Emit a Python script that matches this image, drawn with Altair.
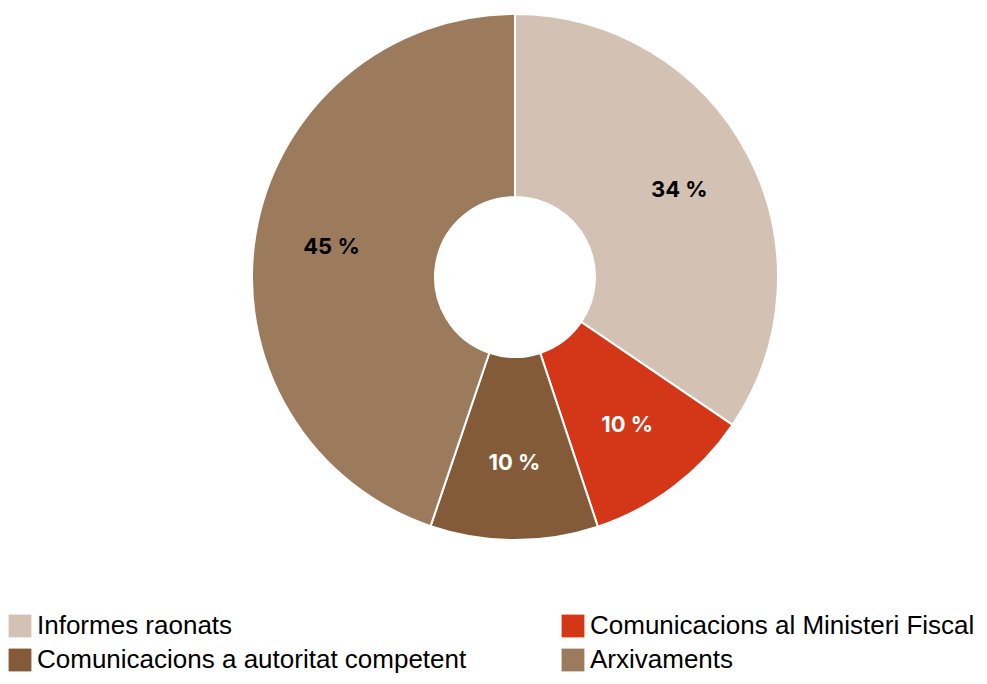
import altair as alt
import pandas as pd

categories = ["Informes raonats", "Comunicacions al Ministeri Fiscal",
              "Comunicacions a autoritat competent", "Arxivaments"]
shares = [34.5, 10.4, 10.3, 44.8]
labels = ["34 %", "10 %", "10 %", "45 %"]
colors = ["#D3C1B3", "#D43618", "#845B38", "#9C7B5C"]
label_colors = ["#000000", "#FFFFFF", "#FFFFFF", "#000000"]

df = pd.DataFrame({
    "cat": categories,
    "share": shares,
    "label": labels,
    "order": list(range(len(categories))),
    "tcol": label_colors,
})

CX, CY = 507, 269

base = alt.Chart(df).encode(
    theta=alt.Theta("share:Q", stack=True),
    order=alt.Order("order:Q"),
)

arcs = base.mark_arc(outerRadius=263, innerRadius=80, stroke="white", strokeWidth=2).encode(
    x=alt.value(CX), y=alt.value(CY),
    color=alt.Color(
        "cat:N",
        scale=alt.Scale(domain=categories, range=colors),
        sort=categories,
        legend=alt.Legend(
            title=None, orient="none", legendX=-1, legendY=605, columns=2,
            direction="horizontal",
            symbolType="square", symbolSize=520, symbolStrokeWidth=0,
            labelFontSize=26, labelFont="Liberation Sans", labelColor="#000000",
            labelOffset=4, columnPadding=93, rowPadding=8, labelLimit=700,
            symbolOpacity=1,
        ),
    ),
)

text = base.mark_text(radius=186, fontSize=22, font="Inter", fontWeight="bold").encode(
    x=alt.value(CX), y=alt.value(CY),
    text="label:N",
    color=alt.Color("tcol:N", scale=None),
)

chart = alt.layer(arcs, text).properties(
    width=971, height=668, autosize="none", padding=0
).configure_view(stroke=None)

chart.save("out.html", embed_options={"renderer": "svg", "actions": False})
